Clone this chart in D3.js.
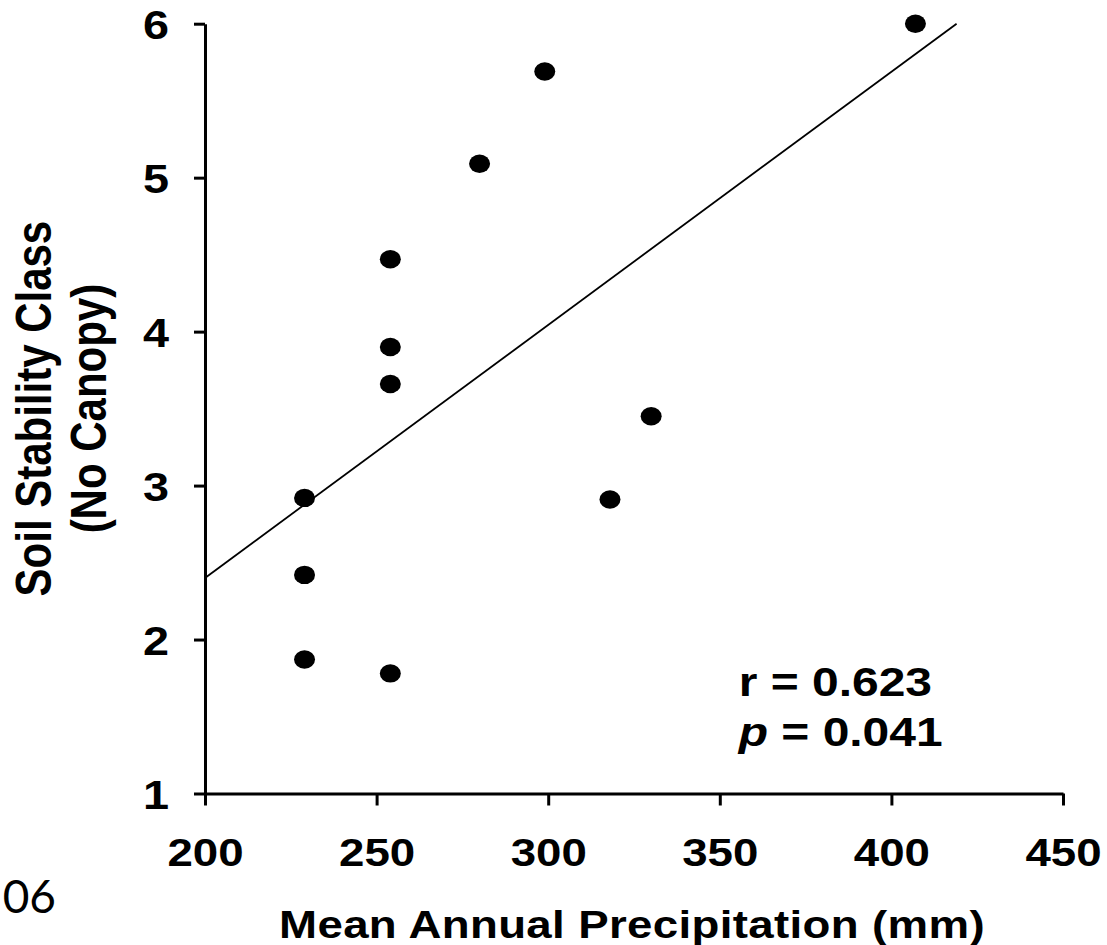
<!DOCTYPE html>
<html lang="en">

<head>
    <meta charset="UTF-8">
    <title>Soil Stability vs Precipitation</title>
    <script src="https://cdn.jsdelivr.net/npm/d3@7"></script>
    <style>
        body {
            margin: 0;
            background: white;
        }

        text {
            font-family: "Liberation Sans", Arial, sans-serif;
            font-weight: bold;
            fill: black;
        }
    </style>
</head>

<body>
    <div id="chart"></div>

    <script>
        /*------------------- data --------------------*/
        // mean annual precipitation (mm) per site
        const precip = [407, 299, 280, 254, 254, 254, 330, 318, 229, 229, 229, 254];
        // soil stability class (no canopy) per site
        const stability = [6.00, 5.69, 5.09, 4.47, 3.90, 3.66, 3.45, 2.91, 2.92, 2.42, 1.87, 1.78];
        // fitted line end points
        const fitX = [200, 419];
        const fitY = [2.40, 6.00];

        const xTicks = [200, 250, 300, 350, 400, 450];
        const yTicks = [1, 2, 3, 4, 5, 6];

        const yTitle = ["Soil Stability Class", "(No Canopy)"];
        const xTitle = "Mean Annual Precipitation (mm)";
        const statR = "0.623";
        const statP = "0.041";

        /*------------------- setting --------------------*/
        const width = 1107, height = 945;
        const sx = 1.17; // text in the figure is stretched sideways

        const x = d3.scaleLinear().domain([200, 450]).range([205, 1063]);
        const y = d3.scaleLinear().domain([1, 6]).range([793.5, 23.7]);

        const svg = d3.select("#chart").append("svg")
            .attr("width", width)
            .attr("height", height);

        /*------------------- axes --------------------*/
        const xAxis = svg.append("g")
            .attr("transform", `translate(0,${y(1)})`)
            .call(d3.axisBottom(x).tickValues(xTicks).tickSize(12).tickSizeOuter(0).tickFormat(d3.format("d")));

        const yAxis = svg.append("g")
            .attr("transform", `translate(${x(200)},0)`)
            .call(d3.axisLeft(y).tickValues(yTicks).tickSize(11).tickSizeOuter(0).tickFormat(d3.format("d")));

        [xAxis, yAxis].forEach(a => {
            a.attr("font-family", null).attr("font-size", null);
            a.select(".domain").attr("stroke", "black").attr("stroke-width", 3);
            a.selectAll(".tick line").attr("stroke", "black").attr("stroke-width", 3);
        });

        xAxis.selectAll(".tick text")
            .attr("y", null).attr("dy", null)
            .attr("text-anchor", "middle")
            .style("font-size", "39px")
            .attr("transform", `translate(0,72) scale(${sx},1)`);

        yAxis.selectAll(".tick text")
            .attr("x", null).attr("dy", null)
            .attr("text-anchor", "end")
            .style("font-size", "40px")
            .attr("transform", `translate(-36,15) scale(${sx},1)`);

        /*------------------- titles --------------------*/
        svg.append("text")
            .attr("text-anchor", "middle")
            .style("font-size", "39px")
            .style("letter-spacing", "0.3px")
            .attr("transform", `translate(${(x(200) + x(450)) / 2 - 2},938) scale(${sx},1)`)
            .text(xTitle);

        const yt = svg.append("text")
            .attr("text-anchor", "middle")
            .style("font-size", "42px")
            .attr("transform", `translate(51,${(y(1) + y(6)) / 2}) scale(${sx},1) rotate(-90)`);
        yt.selectAll("tspan")
            .data(yTitle)
            .enter()
            .append("tspan")
            .attr("x", 0)
            .attr("dy", (d, i) => i === 0 ? 0 : 47)
            .text(d => d);

        /*------------------- marks --------------------*/
        svg.append("line")
            .attr("x1", x(fitX[0])).attr("y1", y(fitY[0]))
            .attr("x2", x(fitX[1])).attr("y2", y(fitY[1]))
            .attr("stroke", "black")
            .attr("stroke-width", 1.8);

        svg.selectAll("ellipse")
            .data(precip)
            .enter()
            .append("ellipse")
            .attr("cx", d => x(d))
            .attr("cy", (d, i) => y(stability[i]))
            .attr("rx", 10.5)
            .attr("ry", 9.2)
            .attr("fill", "black");

        /*------------------- stats --------------------*/
        const stats = svg.append("g")
            .attr("transform", `translate(${x(355.5)},0)`);
        stats.append("text")
            .style("font-size", "41px")
            .attr("transform", `translate(0,696) scale(${sx},1)`)
            .text(`r = ${statR}`);
        const pt = stats.append("text")
            .style("font-size", "41px")
            .attr("transform", `translate(0,746) scale(${sx},1)`);
        pt.append("tspan").style("font-style", "italic").text("p");
        pt.append("tspan").text(` = ${statP}`);

        // stray label cut at the left edge
        svg.append("text")
            .attr("x", 56)
            .attr("y", 913)
            .attr("text-anchor", "end")
            .style("font-family", "Lato, 'Open Sans', sans-serif")
            .style("font-weight", "normal")
            .style("font-size", "46px")
            .text("06");
    </script>
</body>

</html>
